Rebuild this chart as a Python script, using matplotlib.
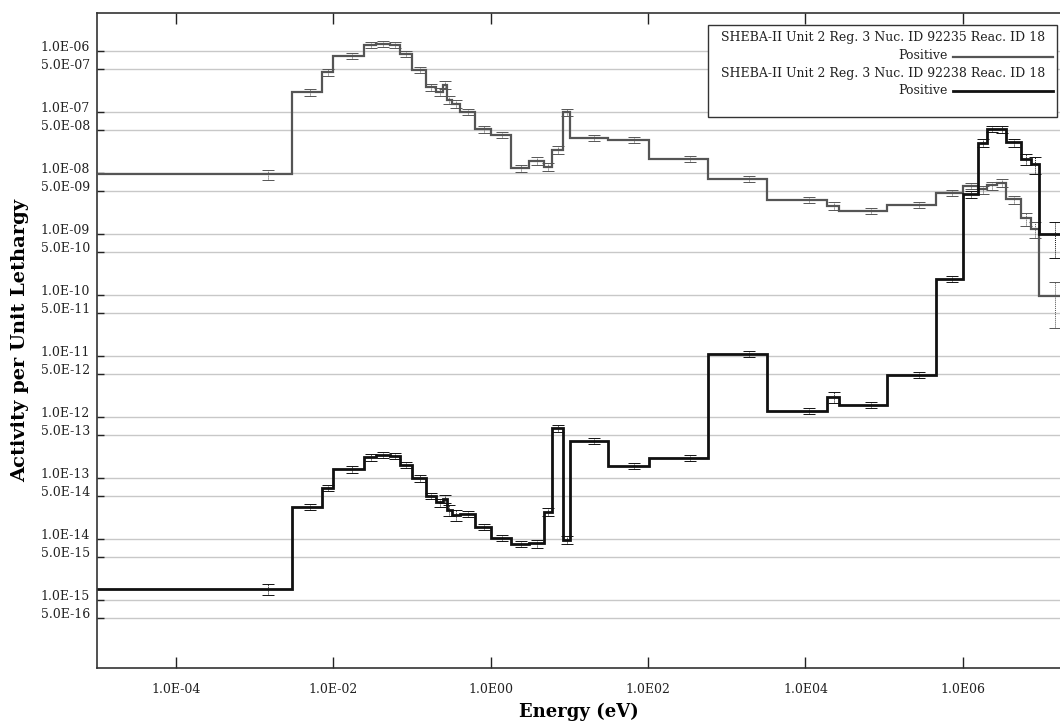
import numpy as np
import matplotlib
matplotlib.use("Agg")
import matplotlib.pyplot as plt
from matplotlib.patches import Rectangle
from matplotlib.lines import Line2D
from matplotlib.ticker import NullLocator

# ---------------- data ----------------
energy_edges = [1e-5, 3e-3, 7.3e-3, 1e-2, 2.5e-2, 3.5e-2, 5.2e-2, 7e-2, 1e-1, 0.15,
                0.2, 0.25, 0.28, 0.32, 0.41, 0.625, 1.0, 1.8, 3.05, 4.75,
                6.1, 8.2, 10.3, 31.0, 103.0, 580.0, 3280.0, 1.87e4, 2.7e4, 1.07e5,
                4.5e5, 1.0e6, 1.55e6, 2.04e6, 2.68e6, 3.5e6, 5.4e6, 7.3e6, 9.3e6, 2.0e7]

u235_activity = [9.5e-9, 2.1e-7, 4.5e-7, 8.4e-7, 1.26e-6, 1.3e-6, 1.25e-6, 8.9e-7, 4.9e-7, 2.55e-7,
                 2.15e-7, 2.8e-7, 1.58e-7, 1.35e-7, 1.0e-7, 5.2e-8, 4.2e-8, 1.2e-8, 1.6e-8, 1.25e-8,
                 2.4e-8, 9.9e-8, 3.8e-8, 3.5e-8, 1.7e-8, 8.1e-9, 3.6e-9, 2.9e-9, 2.4e-9, 3.0e-9,
                 4.7e-9, 6.2e-9, 5.4e-9, 6.3e-9, 6.9e-9, 3.7e-9, 1.8e-9, 1.22e-9, 9.6e-11]

u238_activity = [1.5e-15, 3.35e-14, 6.9e-14, 1.4e-13, 2.2e-13, 2.4e-13, 2.3e-13, 1.65e-13, 9.9e-14, 5.1e-14,
                 4.0e-14, 4.6e-14, 3.0e-14, 2.5e-14, 2.6e-14, 1.6e-14, 1.05e-14, 8.3e-15, 8.5e-15, 2.8e-14,
                 6.5e-13, 9.6e-15, 4.1e-13, 1.57e-13, 2.15e-13, 1.1e-11, 1.26e-12, 2.15e-12, 1.6e-12, 4.9e-12,
                 1.86e-10, 4.5e-9, 3.1e-8, 5.3e-8, 5.2e-8, 3.2e-8, 1.7e-8, 1.4e-8, 1.0e-9]

u235_relerr = [0.2, 0.12, 0.12, 0.12, 0.12, 0.12, 0.12, 0.12, 0.12, 0.12,
               0.15, 0.15, 0.15, 0.15, 0.12, 0.12, 0.12, 0.12, 0.15, 0.15,
               0.15, 0.12, 0.12, 0.12, 0.12, 0.12, 0.12, 0.15, 0.12, 0.12,
               0.12, 0.12, 0.15, 0.15, 0.15, 0.15, 0.25, 0.3, 0.7]

u238_relerr = [0.2, 0.12, 0.12, 0.12, 0.12, 0.12, 0.12, 0.12, 0.12, 0.12,
               0.15, 0.15, 0.2, 0.2, 0.12, 0.12, 0.12, 0.12, 0.15, 0.15,
               0.12, 0.15, 0.12, 0.12, 0.12, 0.12, 0.12, 0.2, 0.12, 0.12,
               0.12, 0.12, 0.15, 0.12, 0.12, 0.15, 0.2, 0.3, 0.6]

series_labels = ["SHEBA-II Unit 2 Reg. 3 Nuc. ID 92235 Reac. ID 18\nPositive",
                 "SHEBA-II Unit 2 Reg. 3 Nuc. ID 92238 Reac. ID 18\nPositive"]

ytick_values = [1e-6, 5e-7, 1e-7, 5e-8, 1e-8, 5e-9, 1e-9, 5e-10, 1e-10, 5e-11,
                1e-11, 5e-12, 1e-12, 5e-13, 1e-13, 5e-14, 1e-14, 5e-15, 1e-15, 5e-16]
ytick_labels = ["1.0E-06", "5.0E-07", "1.0E-07", "5.0E-08", "1.0E-08", "5.0E-09",
                "1.0E-09", "5.0E-10", "1.0E-10", "5.0E-11", "1.0E-11", "5.0E-12",
                "1.0E-12", "5.0E-13", "1.0E-13", "5.0E-14", "1.0E-14", "5.0E-15",
                "1.0E-15", "5.0E-16"]
xtick_values = [1e-4, 1e-2, 1e0, 1e2, 1e4, 1e6]
xtick_labels = ["1.0E-04", "1.0E-02", "1.0E00", "1.0E02", "1.0E04", "1.0E06"]

# ---------------- style ----------------
plt.rcParams["font.family"] = ["DejaVu Serif"]
W, H = 1060, 725
c235, c238 = "#555555", "#111111"

fig = plt.figure(figsize=(W / 100, H / 100), dpi=100)
ax = fig.add_axes([97 / W, (H - 668) / H, (W - 97) / W, (668 - 13) / H])

ax.set_xscale("log")
ax.set_yscale("log")
ax.set_xlim(1e-5, 1.71e7)
ax.set_ylim(7.7e-17, 4.2e-6)

edges = np.array(energy_edges)
centers = 0.5 * (edges[:-1] + edges[1:])

for vals, rel, col, lw in [(u235_activity, u235_relerr, c235, 1.6),
                           (u238_activity, u238_relerr, c238, 2.0)]:
    v = np.array(vals)
    ax.stairs(v, edges, baseline=None, color=col, lw=lw, zorder=3)
    eb = ax.errorbar(centers, v, yerr=v * np.array(rel), fmt="none", ecolor=col,
                     elinewidth=0.7, capsize=4.5, capthick=0.7, zorder=3)
    for bl in eb.lines[2]:
        bl.set_linestyle((0, (1, 1)))

ax.set_yticks(ytick_values, ytick_labels)
ax.set_xticks(xtick_values, xtick_labels)
ax.xaxis.set_minor_locator(NullLocator())
ax.yaxis.set_minor_locator(NullLocator())
ax.yaxis.grid(True, color="#c8c8c8", lw=1.0)
ax.set_axisbelow(True)

ax.tick_params(axis="x", direction="in", length=8, width=1, top=True, bottom=True,
               pad=11, labelsize=9, colors="#222222")
ax.tick_params(axis="y", direction="in", length=5, width=1, left=True, right=False,
               pad=5, labelsize=9, colors="#222222")
for t in ax.get_yticklabels():
    t.set_verticalalignment("baseline")

for s in ["left", "bottom", "top"]:
    ax.spines[s].set_color("#333333")
    ax.spines[s].set_linewidth(1.2)
ax.spines["right"].set_visible(False)

ax.set_xlabel("Energy (eV)", fontsize=13, fontweight="bold", labelpad=5)
ax.set_ylabel("Activity per Unit Lethargy", fontsize=14, fontweight="bold", labelpad=8)

# ---------------- legend (drawn box) ----------------
def fx(x):
    return x / W

def fy(y):
    return 1 - y / H

box = Rectangle((fx(708), fy(117)), (1057 - 708) / W, (117 - 25) / H,
                transform=fig.transFigure, facecolor="white", edgecolor="#333333",
                lw=1.0, zorder=5, clip_on=False)
ax.add_patch(box)

rows = [(38, 56.5, c235, 1.6), (73, 91, c238, 2.0)]
for lab, (y1, y2, col, lw) in zip(series_labels, rows):
    first, second = lab.split("\n")
    fig.text(fx(1045), fy(y1), first, ha="right", va="center", fontsize=9,
             color="#222222", zorder=6)
    fig.text(fx(948), fy(y2 - 1), second, ha="right", va="center", fontsize=9,
             color="#222222", zorder=6)
    fig.add_artist(Line2D([fx(953), fx(1053)], [fy(y2), fy(y2)],
                          transform=fig.transFigure, color=col, lw=lw, zorder=6))

fig.savefig("out.png", dpi=100)
